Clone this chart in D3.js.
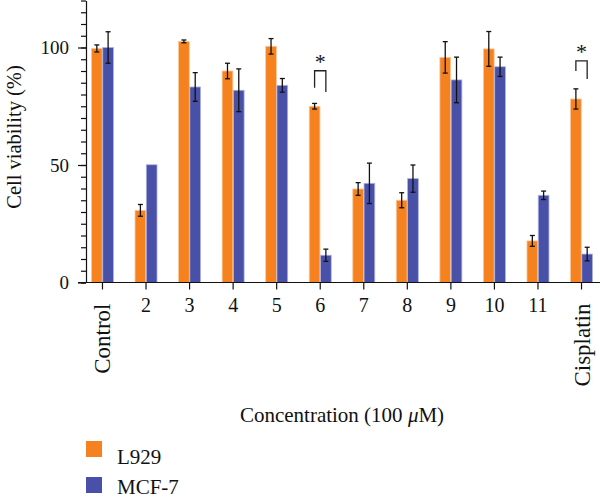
<!DOCTYPE html>
<html>
<head>
<meta charset="utf-8">
<script src="https://cdn.jsdelivr.net/npm/d3@7"></script>
<style>
  body { margin: 0; background: #fff; }
  svg text { font-family: 'Liberation Serif', 'DejaVu Serif', serif; fill: #111; }
</style>
</head>
<body>
<div id="chart"></div>
<script>
const categories = ['Control', '2', '3', '4', '5', '6', '7', '8', '9', '10', '11', 'Cisplatin']
const seriesNames = ['L929', 'MCF-7']
const l929Values = [99.6, 30.7, 102.6, 90.0, 100.5, 75.0, 39.8, 35.0, 95.8, 99.4, 17.7, 78.1]
const l929Errors = [1.5, 2.5, 0.6, 3.3, 3.3, 1.2, 2.7, 3.2, 6.7, 7.4, 2.3, 4.3]
const mcf7Values = [100.0, 50.1, 83.2, 81.8, 83.9, 11.6, 42.2, 44.2, 86.2, 91.8, 37.1, 12.1]
const mcf7Errors = [6.7, 0, 6.1, 9.1, 2.9, 2.6, 8.6, 5.8, 9.7, 4.1, 1.8, 2.9]
const yTicks = [0, 50, 100]
// significance brackets: category, bracket top, left leg end, right leg end (in %)
const brackets = [
  { category: '6', top: 90.1, left: 82.9, right: 81.1 },
  { category: 'Cisplatin', top: 94.3, left: 90.0, right: 86.6 }
]

const colors = { 'L929': '#f5821f', 'MCF-7': '#4850a8' }
const edges = { 'L929': '#fcc896', 'MCF-7': '#aeb2de' }

const width = 600
const height = 500

const svg = d3.select('#chart')
  .append('svg')
  .attr('width', width)
  .attr('height', height)

const y = d3.scaleLinear().domain([0, 120]).range([282.5, 0.5])
const x = d3.scaleBand()
  .domain(categories)
  .range([80.7, 603.3])
  .paddingInner(0.495)
  .paddingOuter(0.2475)
const xSub = d3.scaleBand()
  .domain(seriesNames)
  .range([0, x.bandwidth()])
  .paddingInner(0.05)

const data = categories.map((c, i) => ({
  category: c,
  bars: [
    { series: 'L929', value: l929Values[i], err: l929Errors[i] },
    { series: 'MCF-7', value: mcf7Values[i], err: mcf7Errors[i] }
  ]
}))

// bars
const groups = svg.append('g')
  .classed('bars-group', true)
  .selectAll('g')
  .data(data)
  .enter()
  .append('g')
  .attr('transform', d => `translate(${x(d.category)}, 0)`)

groups.selectAll('rect')
  .data(d => d.bars)
  .enter()
  .append('rect')
  .attr('x', d => xSub(d.series))
  .attr('y', d => y(d.value))
  .attr('width', xSub.bandwidth())
  .attr('height', d => y(0) - y(d.value))
  .attr('fill', d => colors[d.series])
  .attr('stroke', d => edges[d.series])
  .attr('stroke-width', 0.8)

// error bars
const errs = groups.selectAll('g.err')
  .data(d => d.bars.filter(b => b.err > 0))
  .enter()
  .append('g')
  .classed('err', true)
  .attr('stroke', '#111')
  .attr('stroke-width', 1.3)

const cx = d => xSub(d.series) + xSub.bandwidth() / 2
errs.append('line')
  .attr('x1', cx).attr('x2', cx)
  .attr('y1', d => y(d.value + d.err))
  .attr('y2', d => y(d.value - d.err))
errs.append('line')
  .attr('x1', d => cx(d) - 2.5).attr('x2', d => cx(d) + 2.5)
  .attr('y1', d => y(d.value + d.err)).attr('y2', d => y(d.value + d.err))
errs.append('line')
  .attr('x1', d => cx(d) - 2.5).attr('x2', d => cx(d) + 2.5)
  .attr('y1', d => y(d.value - d.err)).attr('y2', d => y(d.value - d.err))

// y axis: minor and major ticks
const yMinor = d3.axisLeft(y)
  .tickValues(d3.range(0, 121, 5))
  .tickSize(5)
  .tickFormat('')
  .tickSizeOuter(0)
const yMajor = d3.axisLeft(y)
  .tickValues(yTicks)
  .tickSize(8)
  .tickPadding(9)
  .tickSizeOuter(0)

svg.append('g')
  .attr('transform', 'translate(86, 0)')
  .call(yMinor)
  .call(g => g.selectAll('line, path').attr('stroke', '#111').attr('stroke-width', 1.2))
svg.append('g')
  .attr('transform', 'translate(86, 0)')
  .call(yMajor)
  .call(g => g.select('.domain').remove())
  .call(g => g.selectAll('line').attr('stroke', '#111').attr('stroke-width', 1.2))
  .call(g => g.selectAll('text').attr('font-size', 19).attr('font-family', null))

// x axis
const xAxis = d3.axisBottom(x)
  .tickSize(7)
  .tickSizeOuter(0)
  .tickPadding(8)

svg.append('g')
  .attr('transform', `translate(0, ${y(0)})`)
  .call(xAxis)
  .call(g => g.select('.domain').attr('d', `M78,0H${width}`))
  .call(g => g.selectAll('line, path').attr('stroke', '#111').attr('stroke-width', 1.2))
  .call(g => g.selectAll('text')
    .attr('font-size', 20)
    .attr('font-family', null)
    .each(function (d) {
      if (d.length > 2) {
        d3.select(this)
          .attr('font-size', 23)
          .attr('text-anchor', 'end')
          .attr('dy', null)
          .attr('y', 0)
          .attr('transform', 'translate(8, 21) rotate(-90)')
      }
    }))

// significance brackets
const bx = (cat, s) => x(cat) + xSub(s) + xSub.bandwidth() / 2
const br = svg.append('g').classed('brackets', true)
br.selectAll('path')
  .data(brackets)
  .enter()
  .append('path')
  .attr('d', d => `M${bx(d.category, 'L929')},${y(d.left)}V${y(d.top)}H${bx(d.category, 'MCF-7')}V${y(d.right)}`)
  .attr('fill', 'none')
  .attr('stroke', '#222')
  .attr('stroke-width', 1.3)
br.selectAll('text')
  .data(brackets)
  .enter()
  .append('text')
  .attr('x', d => x(d.category) + x.bandwidth() / 2)
  .attr('y', d => y(d.top) - 2)
  .attr('text-anchor', 'middle')
  .attr('font-size', 22)
  .attr('fill', '#333')
  .text('*')

// axis titles
svg.append('text')
  .attr('transform', 'translate(21, 137) rotate(-90)')
  .attr('text-anchor', 'middle')
  .attr('font-size', 20.5)
  .text('Cell viability (%)')

const xTitle = svg.append('text')
  .attr('x', (x.range()[0] + x.range()[1]) / 2)
  .attr('y', 422)
  .attr('text-anchor', 'middle')
  .attr('font-size', 21)
xTitle.append('tspan').text('Concentration (100 ')
xTitle.append('tspan').attr('font-style', 'italic').text('μ')
xTitle.append('tspan').text('M)')

// legend
const legend = svg.append('g').classed('legend', true)
legend.selectAll('rect')
  .data(seriesNames)
  .enter()
  .append('rect')
  .attr('x', 86)
  .attr('y', (d, i) => 441 + i * 36)
  .attr('width', 16)
  .attr('height', 16)
  .attr('fill', d => colors[d])
legend.selectAll('text')
  .data(seriesNames)
  .enter()
  .append('text')
  .attr('x', 117)
  .attr('y', (d, i) => 464 + i * 30)
  .attr('font-size', 21)
  .text(d => d)
</script>
</body>
</html>
